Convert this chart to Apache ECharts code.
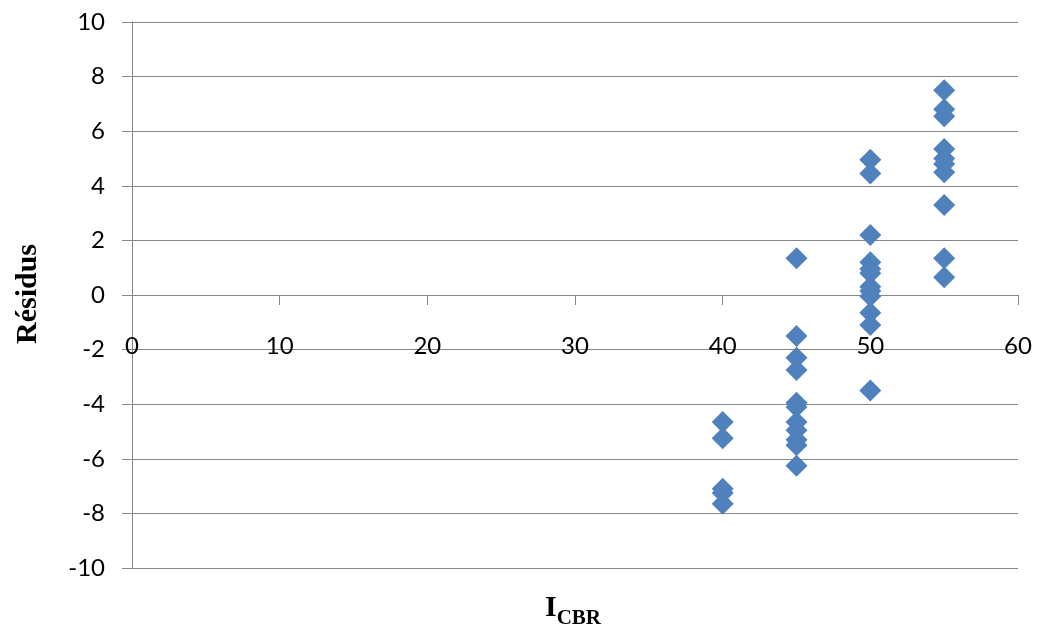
<!DOCTYPE html>
<html>
<head>
<meta charset="utf-8">
<script src="https://cdn.jsdelivr.net/npm/echarts@6/dist/echarts.min.js"></script>
<style>
html,body{margin:0;padding:0;background:#fff;}
#chart{width:1040px;height:628px;}
</style>
</head>
<body>
<div id="chart"></div>
<script>
// I_CBR values and the residuals observed at each
const icbrLevels = [40, 45, 50, 55];
const residus40 = [-4.65, -5.25, -7.1, -7.25, -7.65];
const residus45 = [1.35, -1.5, -2.3, -2.75, -3.95, -4.1, -4.65, -4.95, -5.3, -5.5, -6.25];
const residus50 = [4.95, 4.45, 2.2, 1.2, 0.95, 0.8, 0.3, 0.15, -0.05, -0.65, -1.1, -3.5];
const residus55 = [7.5, 6.8, 6.55, 5.35, 5.0, 4.8, 4.5, 3.3, 1.35, 0.65];
const xTicks = [0, 10, 20, 30, 40, 50, 60];
const yTicks = [-10, -8, -6, -4, -2, 0, 2, 4, 6, 8, 10];

const groups = [residus40, residus45, residus50, residus55];
const points = [];
groups.forEach((g, i) => g.forEach(v => points.push([icbrLevels[i], v])));

const lineColor = '#868686';
const gridTop = 22, gridBottom = 60, H = 628;
const plotH = H - gridTop - gridBottom;
const yMin = yTicks[0], yMax = yTicks[yTicks.length - 1];
// shift x axis so it crosses the y axis at value 0
const zeroOffset = -plotH * (0 - yMin) / (yMax - yMin);

const chart = echarts.init(document.getElementById('chart'), null, {renderer: 'canvas'});
chart.setOption({
  animation: false,
  grid: {left: 132, right: 22, top: gridTop, bottom: gridBottom, containLabel: false},
  xAxis: {
    type: 'value',
    min: xTicks[0], max: xTicks[xTicks.length - 1], interval: 10,
    offset: zeroOffset,
    axisLine: {show: true, onZero: false, lineStyle: {color: lineColor, width: 1}},
    axisTick: {show: true, inside: false, length: 10, lineStyle: {color: lineColor}},
    axisLabel: {show: true, margin: 39, color: '#000', fontFamily: 'Lato', fontSize: 24},
    splitLine: {show: false}
  },
  yAxis: {
    type: 'value',
    min: yMin, max: yMax, interval: 2,
    axisLine: {show: true, lineStyle: {color: lineColor, width: 1}},
    axisTick: {show: true, inside: false, length: 10, lineStyle: {color: lineColor}},
    axisLabel: {show: true, margin: 27, color: '#000', fontFamily: 'Lato', fontSize: 24},
    splitLine: {show: true, lineStyle: {color: lineColor, width: 1}}
  },
  series: [{
    type: 'scatter',
    symbol: 'diamond',
    symbolSize: 22,
    itemStyle: {color: '#4F81BD', opacity: 1},
    data: points
  }],
  graphic: [
    {
      type: 'text',
      x: 28, y: 294,
      rotation: Math.PI / 2,
      style: {
        text: 'Résidus',
        font: 'bold 30px "Liberation Serif"',
        fill: '#000',
        align: 'center',
        verticalAlign: 'middle'
      }
    },
    {
      type: 'text',
      x: 573, y: 608,
      style: {
        text: '{a|I}{b|CBR}',
        align: 'center',
        verticalAlign: 'middle',
        rich: {
          a: {font: 'bold 30px "Liberation Serif"', fill: '#000', color: '#000', verticalAlign: 'bottom', lineHeight: 30},
          b: {font: 'bold 21px "Liberation Serif"', fill: '#000', color: '#000', verticalAlign: 'bottom', lineHeight: 22, padding: [0,0,-6,0]}
        }
      }
    }
  ]
});
</script>
</body>
</html>
